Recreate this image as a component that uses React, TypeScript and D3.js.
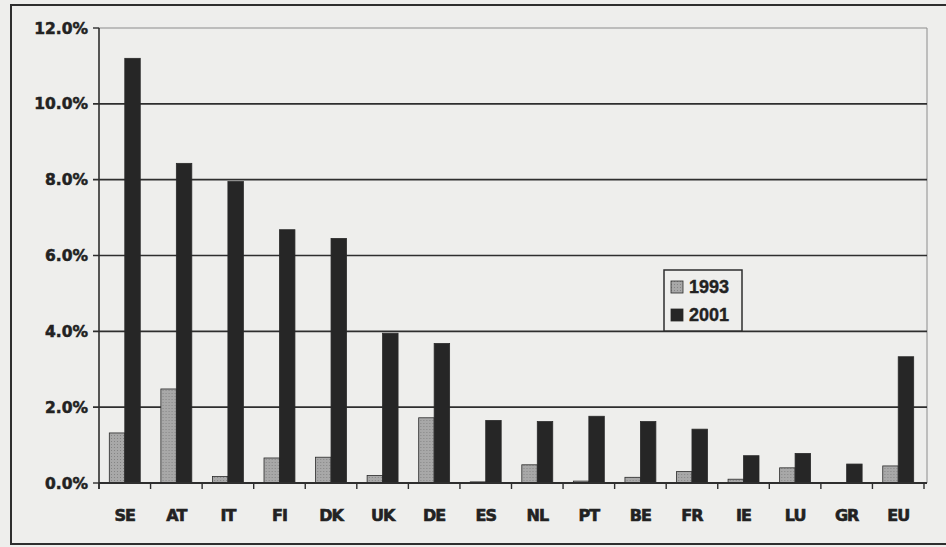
import React from "react";
import * as d3 from "d3";

const categories = ["SE", "AT", "IT", "FI", "DK", "UK", "DE", "ES", "NL", "PT", "BE", "FR", "IE", "LU", "GR", "EU"];
const series = ["1993", "2001"];
const values1993 = [1.32, 2.48, 0.17, 0.66, 0.68, 0.2, 1.72, 0.03, 0.48, 0.05, 0.15, 0.3, 0.1, 0.4, 0.0, 0.45];
const values2001 = [11.2, 8.43, 7.95, 6.68, 6.45, 3.95, 3.68, 1.65, 1.62, 1.76, 1.62, 1.42, 0.72, 0.78, 0.5, 3.33];
const yTicks = [0, 2, 4, 6, 8, 10, 12];

const W = 946;
const H = 547;
const left = 99;
const right = 924;
const top = 28;
const bottom = 483;

export default function App() {
  const x = d3.scaleBand<string>().domain(categories).range([left, right]).paddingInner(0).paddingOuter(0);
  const xs = d3.scaleBand<string>().domain(series).range([0.2 * x.bandwidth(), 0.8 * x.bandwidth()]).padding(0);
  const y = d3.scaleLinear().domain([0, 12]).range([bottom, top]);
  const colors: Record<string, string> = { "1993": "#a6a6a6", "2001": "#262626" };
  const data = categories.map((c, i) => ({ c, v: { "1993": values1993[i], "2001": values2001[i] } as Record<string, number> }));
  const fmt = (d: number) => d.toFixed(1) + "%";
  const tickFont = "'DejaVu Sans', sans-serif";
  return (
    <svg width={W} height={H} style={{ position: "fixed", left: 0, top: 0, background: "#eeeeec" }}>
      <defs>
        <pattern id="dots" width="3" height="3" patternUnits="userSpaceOnUse">
          <rect width="3" height="3" fill="#a8a8a8" />
          <rect width="1" height="1" fill="#858585" />
        </pattern>
      </defs>
      <rect x={0} y={0} width={W} height={H} fill="#eeeeec" />
      <rect x={11} y={5} width={960} height={539} fill="none" stroke="#2e2e2e" strokeWidth={2} />
      <line x1={left} x2={right + 3} y1={y(12)} y2={y(12)} stroke="#8c8c8c" strokeWidth={1} />
      <line x1={right + 3} x2={right + 3} y1={y(12)} y2={bottom} stroke="#8c8c8c" strokeWidth={1} />
      {yTicks.map((t) => (
        <g key={t}>
          {t > 0 && t < 12 && (
            <line x1={left - 6} x2={right + 3} y1={y(t)} y2={y(t)} stroke="#2e2e2e" strokeWidth={1.6} />
          )}
          {(t === 12 || t === 0) && (
            <line x1={left - 6} x2={left} y1={y(t)} y2={y(t)} stroke="#2e2e2e" strokeWidth={1.4} />
          )}
          <text x={88} y={y(t)} dy="0.36em" textAnchor="end" fontFamily={tickFont} fontWeight="bold" fontSize={15.5} fill="#222" stroke="#222" strokeWidth={0.5}>
            {fmt(t)}
          </text>
        </g>
      ))}
      {data.map((d) => (
        <g key={d.c} transform={`translate(${x(d.c)},0)`}>
          {series.map((s) => (
            <rect
              key={s}
              x={xs(s)}
              y={y(d.v[s])}
              width={xs.bandwidth()}
              height={bottom - y(d.v[s])}
              fill={s === "1993" ? "url(#dots)" : colors[s]}
              stroke="#2a2a2a"
              strokeWidth={0.8}
            />
          ))}
          <text x={x.bandwidth() / 2} y={521} textAnchor="middle" fontFamily={tickFont} fontWeight="bold" fontSize={16} fill="#222" stroke="#222" strokeWidth={0.6} letterSpacing={-1}>
            {d.c}
          </text>
        </g>
      ))}
      <line x1={left} x2={left} y1={top} y2={bottom + 6} stroke="#2e2e2e" strokeWidth={1.6} />
      <line x1={left} x2={right + 3} y1={bottom} y2={bottom} stroke="#2e2e2e" strokeWidth={1.8} />
      {categories.map((c) => (
        <line key={c} x1={x(c)!} x2={x(c)!} y1={bottom} y2={bottom + 6} stroke="#2e2e2e" strokeWidth={1.4} />
      ))}
      <line x1={right} x2={right} y1={bottom} y2={bottom + 6} stroke="#2e2e2e" strokeWidth={1.4} />
      <g>
        <rect x={664} y={270} width={78} height={61} fill="#eeeeec" stroke="#2e2e2e" strokeWidth={1.5} />
        {series.map((s, i) => (
          <g key={s} transform={`translate(671,${281 + i * 28})`}>
            <rect x={0} y={0} width={12} height={12} fill={s === "1993" ? "url(#dots)" : colors[s]} stroke="#2a2a2a" strokeWidth={0.8} />
            <text x={18} y={12} fontFamily="'Liberation Sans', Arial, sans-serif" fontWeight="bold" fontSize={18} fill="#222" stroke="#222" strokeWidth={0.4}>
              {s}
            </text>
          </g>
        ))}
      </g>
    </svg>
  );
}
